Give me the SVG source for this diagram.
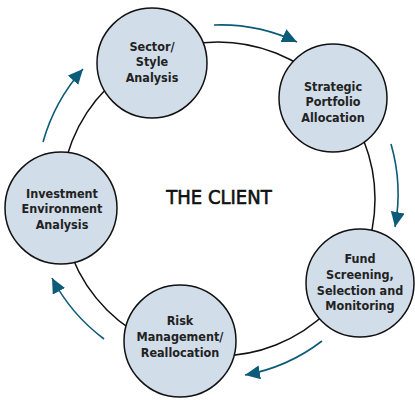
<svg xmlns="http://www.w3.org/2000/svg" width="415" height="400" viewBox="0 0 415 400">
<style>
.node circle{fill:#d1dde9;stroke:#111;stroke-width:1.5}
.node text{font-family:"DejaVu Sans Condensed","Liberation Sans",sans-serif;font-weight:bold;font-size:12.5px;fill:#222;text-anchor:middle}
.ring{fill:none;stroke:#111;stroke-width:1.5}
.arr{fill:none;stroke:#0c5b78;stroke-width:1.6;marker-end:url(#ah)}
.title{font-family:"DejaVu Sans Condensed","Liberation Sans",sans-serif;font-size:20px;fill:#111;stroke:#111;stroke-width:0.6;text-anchor:middle}
</style>
<defs>
<marker id="ah" markerUnits="userSpaceOnUse" markerWidth="16" markerHeight="14" refX="15" refY="7" orient="auto">
<path d="M0,0 L15,7 L0,14 z" fill="#0c5b78"/>
</marker>
</defs>
<g id="connectors">
<circle class="ring" cx="218" cy="199" r="157"/>
<path class="arr" d="M214,25 A178,178 0 0 1 297,42"/>
<path class="arr" d="M391,144 A180,180 0 0 1 395,227"/>
<path class="arr" d="M322,341 A178,178 0 0 1 245,375"/>
<path class="arr" d="M104,339 A182,182 0 0 1 52,278"/>
<path class="arr" d="M43,142 A185,185 0 0 1 83,69"/>
</g>
<g id="node-sector" class="node">
<circle cx="152" cy="63" r="55"/>
<text x="152" y="51">Sector/</text>
<text x="152" y="66">Style</text>
<text x="152" y="82">Analysis</text>
</g>
<g id="node-strategic" class="node">
<circle cx="333" cy="98" r="54"/>
<text x="333" y="91">Strategic</text>
<text x="333" y="106">Portfolio</text>
<text x="333" y="122">Allocation</text>
</g>
<g id="node-fund" class="node">
<circle cx="360" cy="283" r="54"/>
<text x="360" y="263">Fund</text>
<text x="360" y="279">Screening,</text>
<text x="360" y="295">Selection and</text>
<text x="360" y="310">Monitoring</text>
</g>
<g id="node-risk" class="node">
<circle cx="180" cy="341" r="56"/>
<text x="180" y="325">Risk</text>
<text x="180" y="341">Management/</text>
<text x="180" y="357">Reallocation</text>
</g>
<g id="node-investment" class="node">
<circle cx="61" cy="208" r="56"/>
<text x="62" y="198">Investment</text>
<text x="62" y="213">Environment</text>
<text x="62" y="229">Analysis</text>
</g>
<g id="center">
<text class="title" x="219" y="204">THE CLIENT</text>
</g>
</svg>
